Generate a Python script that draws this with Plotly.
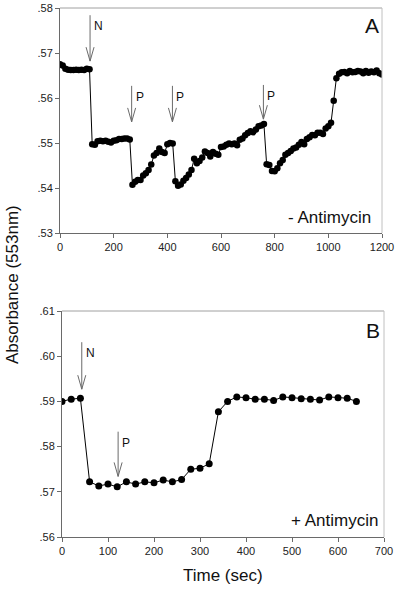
import plotly.graph_objects as go

# ---------------- data ----------------
# Panel A (- Antimycin): time (sec) and absorbance at 553 nm
time_a = list(range(0, 1210, 10))
abs_a = [
    0.5675, 0.5672, 0.5665, 0.5663, 0.5662, 0.5662, 0.5663, 0.5662, 0.5663, 0.5662, 0.5665, 0.5664,
    0.5497, 0.5496, 0.5504, 0.5505, 0.5504, 0.5505, 0.5503, 0.5501, 0.5505, 0.5506, 0.5509, 0.5509,
    0.5510, 0.5510, 0.5508,
    0.5407, 0.5414, 0.5418, 0.5418, 0.5428, 0.5433, 0.5440, 0.5452, 0.5472, 0.5478, 0.5488, 0.5480,
    0.5478, 0.5497, 0.5500, 0.5499,
    0.5415, 0.5405, 0.5408, 0.5416, 0.5422, 0.5430, 0.5440, 0.5465, 0.5455, 0.5460, 0.5468, 0.5481,
    0.5478, 0.5470, 0.5480, 0.5476, 0.5474, 0.5491, 0.5492, 0.5496, 0.5499, 0.5497, 0.5499, 0.5495,
    0.5507, 0.5510, 0.5517, 0.5522, 0.5526, 0.5524, 0.5530, 0.5537, 0.5539, 0.5542,
    0.5453, 0.5451, 0.5438, 0.5437, 0.5444, 0.5455, 0.5462, 0.5474, 0.5478, 0.5482, 0.5488, 0.5490,
    0.5496, 0.5502, 0.5497, 0.5509, 0.5513, 0.5518, 0.5517, 0.5523, 0.5523, 0.5520, 0.5532, 0.5537,
    0.5545, 0.5594, 0.5644, 0.5654, 0.5657, 0.5658, 0.5655, 0.5660, 0.5657, 0.5658, 0.5660, 0.5659,
    0.5655, 0.5660, 0.5656, 0.5659, 0.5657, 0.5661, 0.5655, 0.5652,
]

# Panel B (+ Antimycin)
time_b = list(range(0, 660, 20))
abs_b = [
    0.5900, 0.5905, 0.5907, 0.5722, 0.5713, 0.5717, 0.5711, 0.5722, 0.5717, 0.5722, 0.5720, 0.5726,
    0.5722, 0.5727, 0.5750, 0.5752, 0.5762, 0.5877, 0.5900, 0.5910, 0.5908, 0.5905, 0.5905, 0.5902,
    0.5910, 0.5908, 0.5906, 0.5905, 0.5903, 0.5910, 0.5908, 0.5907, 0.5900,
]

# Additions (arrows): time, label, arrow top, arrow tip
arrows_a_t = [112, 267, 419, 758]
arrows_a_lbl = ["N", "P", "P", "P"]
arrows_a_top = [0.5784, 0.5627, 0.5627, 0.5629]
arrows_a_tip = [0.5682, 0.5547, 0.5547, 0.5553]

arrows_b_t = [43, 122]
arrows_b_lbl = ["N", "P"]
arrows_b_top = [0.6031, 0.5833]
arrows_b_tip = [0.5927, 0.5734]

yticks_a = [0.53, 0.54, 0.55, 0.56, 0.57, 0.58]
yticks_b = [0.56, 0.57, 0.58, 0.59, 0.60, 0.61]
xticks_a = list(range(0, 1400, 200))
xticks_b = list(range(0, 800, 100))


def short(v):
    return ("%.2f" % v).lstrip("0")


FONT = "Liberation Sans, Arial, sans-serif"
W, H = 400, 590

fig = go.Figure()
fig.add_trace(go.Scatter(x=time_a, y=abs_a, mode="lines+markers", xaxis="x", yaxis="y",
                         line=dict(color="black", width=1),
                         marker=dict(color="black", size=6.5), showlegend=False))
fig.add_trace(go.Scatter(x=time_b, y=abs_b, mode="lines+markers", xaxis="x2", yaxis="y2",
                         line=dict(color="black", width=1),
                         marker=dict(color="black", size=7), showlegend=False))

axis_common = dict(showgrid=False, zeroline=False, showline=True, linecolor="#6a6a6a",
                   linewidth=1, ticks="outside", ticklen=4, tickcolor="#6a6a6a",
                   automargin=False,
                   tickfont=dict(family=FONT, size=11, color="#222"))

fig.update_layout(
    width=W, height=H, autosize=False,
    margin=dict(l=0, r=0, t=0, b=0, pad=0),
    paper_bgcolor="white", plot_bgcolor="white",
    font=dict(family=FONT, color="#111"),
    xaxis=dict(domain=[60 / W, 382 / W], range=[0, 1200], anchor="y",
               tickvals=xticks_a, ticktext=[str(v) for v in xticks_a], **axis_common),
    yaxis=dict(domain=[1 - 233 / H, 1 - 8 / H], range=[0.53, 0.58], anchor="x",
               tickvals=yticks_a, ticktext=[short(v) for v in yticks_a], **axis_common),
    xaxis2=dict(domain=[62 / W, 384 / W], range=[0, 700], anchor="y2",
                tickvals=xticks_b, ticktext=[str(v) for v in xticks_b], **axis_common),
    yaxis2=dict(domain=[1 - 537 / H, 1 - 311 / H], range=[0.56, 0.61], anchor="x2",
                tickvals=yticks_b, ticktext=[short(v) for v in yticks_b], **axis_common),
)

shapes = []
annotations = []

# top / right frame lines (lighter gray)
for xr, yr in (("x", "y"), ("x2", "y2")):
    shapes.append(dict(type="line", xref=xr + " domain", yref=yr + " domain",
                       x0=0, x1=1, y0=1, y1=1, line=dict(color="#a0a0a0", width=1)))
    shapes.append(dict(type="line", xref=xr + " domain", yref=yr + " domain",
                       x0=1, x1=1, y0=0, y1=1, line=dict(color="#c0c0c0", width=1)))


def add_arrows(ts, lbls, tops, tips, xr, yr, dx, dy):
    for t, lbl, top, tip in zip(ts, lbls, tops, tips):
        path = (f"M {t},{top} L {t},{tip} "
                f"M {t - dx},{tip + dy} L {t},{tip} L {t + dx},{tip + dy}")
        shapes.append(dict(type="path", xref=xr, yref=yr, path=path,
                           line=dict(color="#6a6a6a", width=1)))
        annotations.append(dict(x=t, y=top, xref=xr, yref=yr, text=lbl, showarrow=False,
                                xanchor="left", yanchor="top", xshift=2, yshift=-2,
                                font=dict(family=FONT, size=12, color="#111")))


add_arrows(arrows_a_t, arrows_a_lbl, arrows_a_top, arrows_a_tip, "x", "y", 14.9, 0.0031)
add_arrows(arrows_b_t, arrows_b_lbl, arrows_b_top, arrows_b_tip, "x2", "y2", 8.7, 0.0031)

# panel letters and conditions
annotations += [
    dict(x=372 / W, y=1 - 26 / H, xref="paper", yref="paper", text="A", showarrow=False,
         xanchor="center", yanchor="middle", font=dict(family=FONT, size=21, color="#111")),
    dict(x=373 / W, y=1 - 330 / H, xref="paper", yref="paper", text="B", showarrow=False,
         xanchor="center", yanchor="middle", font=dict(family=FONT, size=21, color="#111")),
    dict(x=373 / W, y=1 - 218 / H, xref="paper", yref="paper", text="- Antimycin",
         showarrow=False, xanchor="right", yanchor="middle",
         font=dict(family=FONT, size=17, color="#111")),
    dict(x=380 / W, y=1 - 520 / H, xref="paper", yref="paper", text="+ Antimycin",
         showarrow=False, xanchor="right", yanchor="middle",
         font=dict(family=FONT, size=17, color="#111")),
    dict(x=223 / W, y=1 - 575 / H, xref="paper", yref="paper", text="Time (sec)",
         showarrow=False, xanchor="center", yanchor="middle",
         font=dict(family=FONT, size=17, color="#111")),
    dict(x=12 / W, y=1 - 285 / H, xref="paper", yref="paper", text="Absorbance (553nm)",
         showarrow=False, textangle=-90, xanchor="center", yanchor="middle",
         font=dict(family=FONT, size=17, color="#111")),
]

fig.update_layout(shapes=shapes, annotations=annotations)
fig.write_html("out.html", config={"displayModeBar": False},
               post_script="document.body.style.margin='0px';"
                           "document.body.style.overflow='hidden';")
